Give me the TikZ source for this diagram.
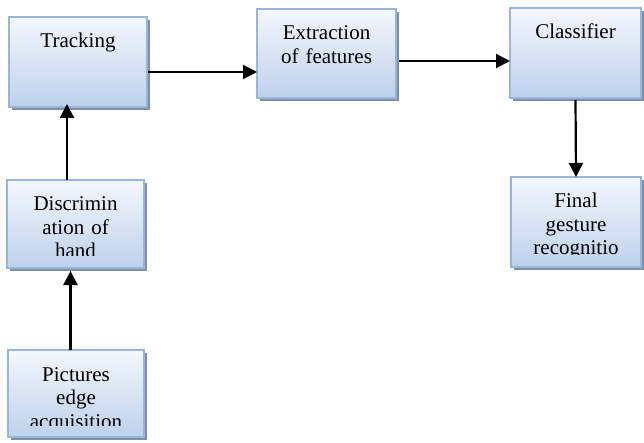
\documentclass[tikz,border=0pt]{standalone}
\usepackage{fontspec}
\setmainfont{Liberation Serif}
\usetikzlibrary{arrows.meta,calc}
\definecolor{boxtop}{RGB}{244,247,252}
\definecolor{boxbot}{RGB}{190,209,235}
\definecolor{boxline}{RGB}{152,182,220}
\definecolor{boxshadow}{RGB}{128,143,168}
\tikzset{
  gbox/.style={draw=boxline, line width=1.4pt, top color=boxtop, bottom color=boxbot,
    inner sep=0pt, outer sep=0pt,
    preaction={draw=none, fill=boxshadow, transform canvas={xshift=3pt,yshift=-3pt}}},
  glabel/.style={inner sep=0pt, text width=130pt, align=center,
    font=\fontsize{21}{23.5}\selectfont},
  arr/.style={line width=2.2pt, -{Triangle[length=14pt,width=14pt]}}
}
\newcommand\gbox[6]{%
  \node[gbox, minimum width=#4-#2, minimum height=#5-#3, anchor=north west] (#1) at (#2,#3) {};
  \begin{scope}
    \clip ([yshift=12pt]#1.south west) rectangle (#1.north east);
    \node[glabel, anchor=base] (#1-t) at ([yshift=-31pt]#1.north) {#6};
  \end{scope}}
\begin{document}
\begin{tikzpicture}[x=1pt,y=-1pt]
\useasboundingbox (0,0) rectangle (644,443);
\gbox{track}{9}{17}{147}{107}{Tracking}
\gbox{disc}{7}{180}{144}{268}{Discrimin\\ation of\\hand}
\gbox{pict}{8}{350}{144}{437}{Pictures\\edge\\acquisition}
\gbox{extr}{257}{9}{396}{98}{Extraction\\of features}
\gbox{cls}{510}{8}{641}{98}{Classifier}
\gbox{fin}{511}{177}{641}{267}{Final\\gesture\\recognitio}
\draw[arr] ([xshift=1pt,yshift=-10pt]track.east) -- ([yshift=-10pt]track.east -| extr.west);
\draw[arr] ([xshift=3pt,yshift=-7.5pt]extr.east) -- ([yshift=-7.5pt]extr.east -| cls.west);
\draw[arr] ([yshift=-2pt]cls.south) -- (fin.north);
\draw[arr] ([xshift=-8.5pt]disc.north) -- ([xshift=-8.5pt,yshift=3pt]disc.north |- track.south);
\draw[arr] ([xshift=-5.5pt]pict.north) -- ([xshift=-5.5pt,yshift=-3pt]pict.north |- disc.south);
\end{tikzpicture}
\end{document}
